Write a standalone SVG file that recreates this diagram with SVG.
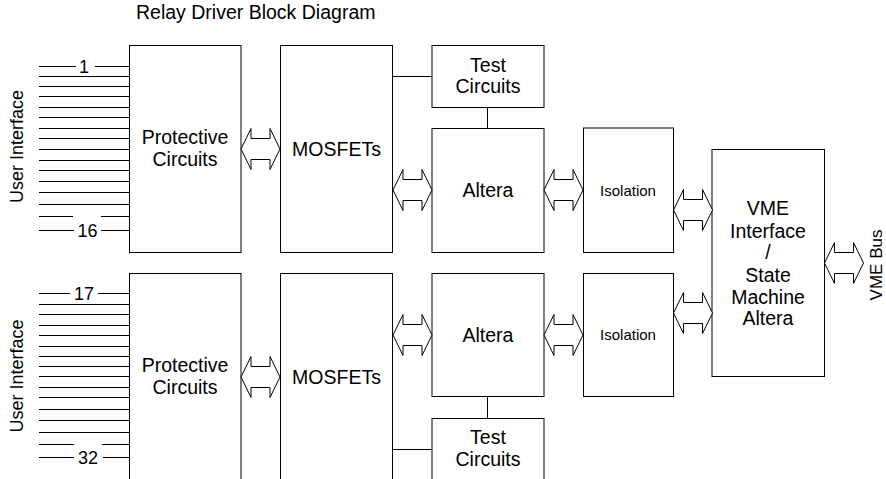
<svg xmlns="http://www.w3.org/2000/svg" xmlns:xlink="http://www.w3.org/1999/xlink" width="886" height="479" viewBox="0 0 886 479">
<style>
text{font-family:"Liberation Sans",Arial,sans-serif;fill:#000;}
.lbl{font-size:19.5px;text-anchor:middle;}
.sm{font-size:15px;text-anchor:middle;}
.num{font-size:18px;text-anchor:middle;}
.box{fill:#fff;stroke:#000;stroke-width:1;}
.ln{stroke:#000;stroke-width:1;fill:none;}
.arr{fill:#fff;stroke:#000;stroke-width:1;}
</style>
<defs>
<path id="dbl" class="arr" d="M0,0 L10,-20.5 L10,-10.5 L29,-10.5 L29,-20.5 L39,0 L29,20.5 L29,10.5 L10,10.5 L10,20.5 Z"/>
</defs>
<rect width="886" height="479" fill="#fff"/>
<text x="136" y="19" style="font-size:19.5px">Relay Driver Block Diagram</text>

<g id="user-interface-1">
<text class="num" transform="translate(17,146.5) rotate(-90)" y="6">User Interface</text>
<path class="ln" d="M39,66.5H76M95,66.5H129.5M39,76.5H129.5M39,86.5H129.5M39,96.5H129.5M39,107.5H129.5M39,117.5H129.5M39,128.5H129.5M39,138.5H129.5M39,149.5H129.5M39,160.5H129.5M39,170.5H129.5M39,181.5H129.5M39,192.5H129.5M39,204.5H129.5M39,216.5H73M101,216.5H129.5M39,230.5H74M101,230.5H129.5"/>
<text class="num" x="84" y="73">1</text>
<text class="num" x="87.5" y="237">16</text>
</g>
<g id="user-interface-2">
<text class="num" transform="translate(17,376) rotate(-90)" y="6">User Interface</text>
<path class="ln" d="M39,293.5H70M98,293.5H129.5M39,304.5H129.5M39,314.5H129.5M39,325.5H129.5M39,335.5H129.5M39,346.5H129.5M39,356.5H129.5M39,366.5H129.5M39,376.5H129.5M39,387.5H129.5M39,397.5H129.5M39,409.5H129.5M39,420.5H129.5M39,432.5H129.5M39,444.5H74M102,444.5H129.5M39,457.5H74M103,457.5H129.5"/>
<text class="num" x="84" y="300">17</text>
<text class="num" x="88" y="464">32</text>
</g>

<g id="protective-1"><rect class="box" x="129.5" y="45.5" width="111.5" height="207"/><text class="lbl" x="185" y="143.5">Protective</text><text class="lbl" x="185" y="166">Circuits</text></g>
<g id="mosfets-1"><rect class="box" x="280.5" y="45.5" width="112" height="207"/><text class="lbl" x="336.5" y="155.8">MOSFETs</text></g>
<g id="test-1"><rect class="box" x="432" y="45.5" width="112" height="62"/><text class="lbl" x="488" y="71.8">Test</text><text class="lbl" x="488" y="92.8">Circuits</text></g>
<g id="altera-1"><rect class="box" x="432" y="128.5" width="112" height="124"/><text class="lbl" x="488" y="196.8">Altera</text></g>
<g id="isolation-1"><rect class="box" x="583.5" y="128" width="90" height="124.5"/><text class="sm" x="628" y="196">Isolation</text></g>

<g id="protective-2"><rect class="box" x="129.5" y="273.5" width="111.5" height="207"/><text class="lbl" x="185" y="371.8">Protective</text><text class="lbl" x="185" y="393.5">Circuits</text></g>
<g id="mosfets-2"><rect class="box" x="280.5" y="273.5" width="112" height="207"/><text class="lbl" x="336.5" y="383.8">MOSFETs</text></g>
<g id="altera-2"><rect class="box" x="432" y="273.5" width="112" height="123"/><text class="lbl" x="488" y="341.8">Altera</text></g>
<g id="test-2"><rect class="box" x="432" y="418.5" width="112" height="62"/><text class="lbl" x="488" y="444">Test</text><text class="lbl" x="488" y="466">Circuits</text></g>
<g id="isolation-2"><rect class="box" x="583.5" y="273.5" width="90" height="123"/><text class="sm" x="628" y="340.4">Isolation</text></g>

<g id="vme"><rect class="box" x="712" y="149.5" width="112.5" height="227"/>
<text class="lbl" x="768" y="215">VME</text>
<text class="lbl" x="768" y="237.5">Interface</text>
<text class="lbl" x="768" y="258.5">/</text>
<text class="lbl" x="768" y="281.8">State</text>
<text class="lbl" x="768" y="303.5">Machine</text>
<text class="lbl" x="768" y="325">Altera</text>
</g>
<g id="vme-bus-label"><text class="num" transform="translate(876,265) rotate(-90)" y="6.3" style="font-size:17px">VME Bus</text></g>

<g id="connectors">
<path class="ln" d="M392.5,76.5H432M487.5,107.5V128.5M487.5,396.5V418.5M392.5,449.5H432"/>
<use xlink:href="#dbl" transform="translate(241,149)"/>
<use xlink:href="#dbl" transform="translate(393,190)"/>
<use xlink:href="#dbl" transform="translate(544,190)"/>
<use xlink:href="#dbl" transform="translate(673.5,210)"/>
<use xlink:href="#dbl" transform="translate(241,377)"/>
<use xlink:href="#dbl" transform="translate(393,335)"/>
<use xlink:href="#dbl" transform="translate(544,335)"/>
<use xlink:href="#dbl" transform="translate(673.5,313)"/>
<use xlink:href="#dbl" transform="translate(824.5,263)"/>
</g>
</svg>
